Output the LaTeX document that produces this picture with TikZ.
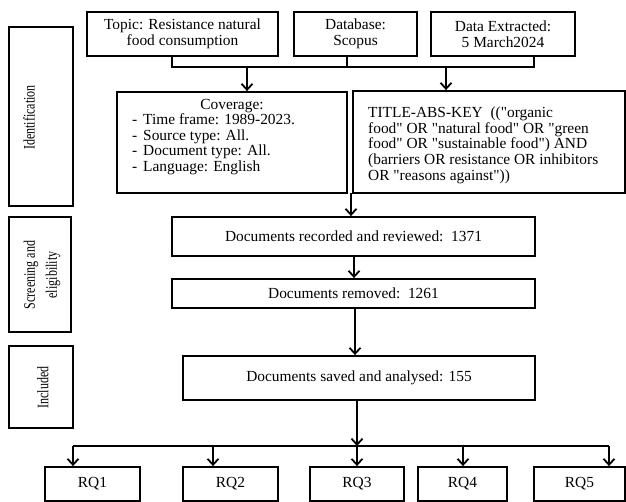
\documentclass[tikz,border=0pt]{standalone}
\usepackage{fontspec}
\setmainfont{Liberation Serif}
\newfontfamily\plainserif{Liberation Serif}
\newfontfamily\narrowfont[FakeStretch=0.75]{Liberation Serif}
\usetikzlibrary{arrows.meta}
\begin{document}
\begin{tikzpicture}[x=1pt,y=-1pt,
 box/.style={draw, line width=1.8pt, inner sep=0pt, font=\fontsize{15.4}{16}\selectfont, align=center},
 side/.style={draw, line width=1.8pt, inner sep=0pt},
 sidetxt/.style={inner sep=0pt, rotate=90, font=\narrowfont\fontsize{16}{22}\selectfont, align=center},
 txt/.style={inner sep=0pt, font=\plainserif\fontsize{15.4}{15.7}\selectfont, align=left},
 ln/.style={line width=1.8pt},
 arr/.style={line width=1.8pt, -{Straight Barb[length=6pt,width=11pt]}}]
\useasboundingbox (0,0) rectangle (626,502);

% side labels
\node[side, minimum width=64, minimum height=179] (ident) at (41,116.5) {};
\node[sidetxt] (identt) at (29,117.5) {Identification};
\node[side, minimum width=62, minimum height=115] (screen) at (40,274.5) {};
\node[sidetxt] (screent) at (42,275) {Screening and\\eligibility};
\node[side, minimum width=64, minimum height=82] (incl) at (41,387) {};
\node[sidetxt] (inclt) at (43,387.5) {Included};

% top boxes
\node[box, minimum width=191, minimum height=44] (topic) at (182.5,34) {Topic: Resistance natural\\food consumption};
\node[box, minimum width=123, minimum height=44] (db) at (355.5,34) {Database:\\Scopus};
\node[box, minimum width=144, minimum height=44] (date) at (503,34) {Data Extracted:\\5 March2024};

% coverage and query
\node[box, minimum width=230, minimum height=101] (cov) at (232,142.5) {};
\node[txt, anchor=base] (covt) at (232,110) {Coverage:};
\node[txt, anchor=north west] (covl) at (132,113.5) {\makebox[11pt][l]{-}Time frame: 1989-2023.\\
\makebox[11pt][l]{-}Source type: All.\\
\makebox[11pt][l]{-}Document type: All.\\
\makebox[11pt][l]{-}Language: English};
\node[box, minimum width=272, minimum height=102] (query) at (489,142) {};
\node[txt, anchor=north west] (qt) at (368,106.5) {TITLE-ABS-KEY\ \ (("organic\\
food" OR "natural food" OR "green\\
food" OR "sustainable food") AND\\
(barriers OR resistance OR inhibitors\\
OR "reasons against"))};

% documents
\node[box, minimum width=363, minimum height=39] (rec) at (353.5,236.5) {Documents recorded and reviewed:\ \ 1371};
\node[box, minimum width=363, minimum height=29] (rem) at (353.5,293.5) {Documents removed:\ \ 1261};
\node[box, minimum width=352, minimum height=44] (saved) at (359,378) {Documents saved and analysed: 155};

% RQs
\node[box, minimum width=95, minimum height=34] (rq1) at (92.5,484) {RQ1};
\node[box, minimum width=95, minimum height=34] (rq2) at (230.5,484) {RQ2};
\node[box, minimum width=94, minimum height=34] (rq3) at (357,484) {RQ3};
\node[box, minimum width=89, minimum height=34] (rq4) at (462.5,484) {RQ4};
\node[box, minimum width=91, minimum height=34] (rq5) at (579.5,484) {RQ5};

% top connectors
\coordinate (j1) at (172,67);
\coordinate (j2) at (347,67);
\coordinate (j3) at (534,67);
\coordinate (a1) at (247,67);
\coordinate (a2) at (446,67);
\draw[ln] (topic.south -| j1) -- (j1) -- (j3) -- (date.south -| j3);
\draw[ln] (db.south -| j2) -- (j2);
\draw[arr] (a1) -- (cov.north -| a1);
\draw[arr] (a2) -- (query.north -| a2);

% middle connectors
\coordinate (c0) at (351,193);
\draw[arr] (c0) -- (rec.north -| c0);
\coordinate (c2) at (354,256);
\draw[arr] (rec.south -| c2) -- (rem.north -| c2);
\coordinate (c1) at (355,308);
\draw[arr] (c1) -- (saved.north -| c1);

% bottom connectors
\coordinate (t1) at (73,446);
\coordinate (t2) at (213,446);
\coordinate (t3) at (357,446);
\coordinate (t4) at (463,446);
\coordinate (t5) at (609,446);
\draw[arr] (saved.south -| t3) -- (t3);
\draw[ln] (t1) -- (t5);
\draw[arr] (t1) -- (rq1.north -| t1);
\draw[arr] (t2) -- (rq2.north -| t2);
\draw[arr] (t3) -- (rq3.north);
\draw[arr] (t4) -- (rq4.north -| t4);
\draw[arr] (t5) -- (rq5.north -| t5);
\end{tikzpicture}
\end{document}
